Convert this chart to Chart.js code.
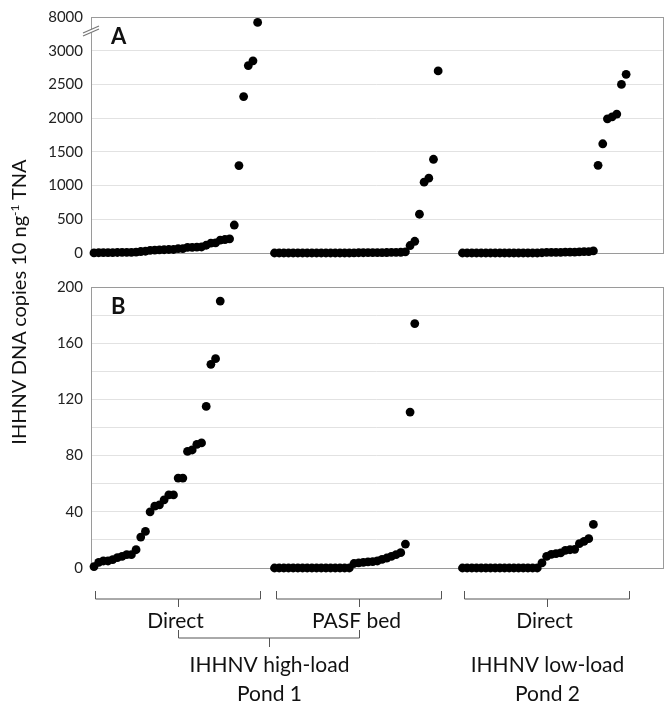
<!DOCTYPE html>
<html>
<head>
<meta charset="utf-8">
<script src="https://cdn.jsdelivr.net/npm/chart.js@4.4.0/dist/chart.umd.min.js"></script>
<style>
  html, body { margin: 0; padding: 0; background: #fff; }
  #wrap { position: relative; width: 667px; height: 705px; font-family: Lato, sans-serif; }
  #boxA { position: absolute; left: 0; top: 0; }
  #boxB { position: absolute; left: 0; top: 270px; }
  #ytitle {
    position: absolute; left: -182px; top: 290px; width: 400px; height: 24px;
    line-height: 24px; text-align: center; white-space: nowrap;
    transform: rotate(-90deg); font-size: 20px; color: #111;
  }
  #ytitle sup { font-size: 12px; vertical-align: 7px; line-height: 0; }
</style>
</head>
<body>
<div id="wrap">
  <div id="boxA"><canvas id="chartA" width="667" height="270"></canvas></div>
  <div id="boxB"><canvas id="chartB" width="667" height="435"></canvas></div>
  <div id="ytitle">IHHNV DNA copies 10 ng<sup>-1</sup> TNA</div>
</div>
<script>
// sorted sample values, IHHNV copies per 10 ng TNA
const pond1Direct = [1, 4, 5, 5, 6, 7.4, 8.3, 9.5, 9.5, 13, 22, 26, 40, 44, 45, 48.5, 52, 52,
    64, 64, 83, 84, 88, 89, 115, 145, 149, 190, 200, 210, 415, 1296, 2320, 2780, 2850, 7200];
const pond1Pasf = [0, 0, 0, 0, 0, 0, 0, 0, 0, 0, 0, 0, 0, 0, 0, 0, 0,
    3.2, 3.6, 4.0, 4.3, 4.5, 5.0, 6.2, 7.1, 8.3, 9.5, 10.9, 17, 111, 174, 575, 1050, 1110, 1390, 2700];
const pond2Direct = [0, 0, 0, 0, 0, 0, 0, 0, 0, 0, 0, 0, 0, 0, 0, 0, 0,
    3.6, 8.3, 9.7, 10.2, 10.7, 12.6, 13, 13.3, 17.3, 19, 20.9, 31, 1300, 1620, 1990, 2020, 2060, 2500, 2650];

const groupLabels = ['Direct', 'PASF bed', 'Direct'];
const pondLabels = [['IHHNV high-load', 'Pond 1'], ['IHHNV low-load', 'Pond 2']];
const groupOffsets = [0, 38.6, 78.8];   // x position of first sample in each group

const ticksA = [0, 500, 1000, 1500, 2000, 2500, 3000];
const breakLow = 3000, breakHigh = 8000;   // axis break in panel A
const ticksB = [0, 40, 80, 120, 160, 200];

const groups = [pond1Direct, pond1Pasf, pond2Direct];

// panel A: everything above 3000 is squeezed into one 500-wide band
function squeeze(v) {
    return v <= breakLow ? v : breakLow + (v - breakLow) * 500 / (breakHigh - breakLow);
}

function makeDatasets(transform, maxY) {
    return groups.map((vals, g) => ({
        data: vals.map((v, i) => ({ x: groupOffsets[g] + i, y: transform(v) }))
                  .filter(p => p.y < maxY),
        backgroundColor: '#000',
        borderColor: '#000',
        pointRadius: 4.4,
        pointBorderWidth: 0,
        showLine: false,
        clip: false
    }));
}

const frame = {
    id: 'frame',
    beforeDatasetsDraw(chart) {
        const a = chart.chartArea, ctx = chart.ctx;
        ctx.save();
        ctx.strokeStyle = '#9a9a9a';
        ctx.lineWidth = 1;
        ctx.strokeRect(Math.round(a.left) + 0.5, Math.round(a.top) + 0.5,
            Math.round(a.right - a.left), Math.round(a.bottom - a.top));
        ctx.restore();
    },
    afterDatasetsDraw(chart, args, opts) {
        const a = chart.chartArea, ctx = chart.ctx;
        ctx.save();
        ctx.fillStyle = '#111';
        ctx.font = 'bold 22px Lato';
        ctx.textBaseline = 'alphabetic';
        ctx.fillText(opts.label, a.left + 20, a.top + 27);
        if (opts.brk) {
            const y = chart.scales.y.getPixelForValue(breakLow + 300);
            const x = a.left;
            ctx.fillStyle = '#fff';
            ctx.beginPath();
            ctx.moveTo(x - 7, y + 2); ctx.lineTo(x + 7, y - 4);
            ctx.lineTo(x + 7, y - 1); ctx.lineTo(x - 7, y + 5);
            ctx.closePath(); ctx.fill();
            ctx.strokeStyle = '#777';
            ctx.lineWidth = 1.2;
            ctx.beginPath();
            ctx.moveTo(x - 8, y + 2.5); ctx.lineTo(x + 8, y - 4.5);
            ctx.moveTo(x - 8, y + 5.5); ctx.lineTo(x + 8, y - 1.5);
            ctx.stroke();
        }
        ctx.restore();
    }
};

const brackets = {
    id: 'brackets',
    afterDraw(chart) {
        const xs = chart.scales.x, ctx = chart.ctx;
        const base = chart.chartArea.bottom;
        ctx.save();
        ctx.strokeStyle = '#555';
        ctx.lineWidth = 1;
        ctx.fillStyle = '#111';
        ctx.font = '21px Lato';
        ctx.textAlign = 'center';
        ctx.textBaseline = 'middle';
        const mids = [];
        groups.forEach((vals, g) => {
            const l = Math.round(xs.getPixelForValue(groupOffsets[g] + 0.3)) + 0.5;
            const r = Math.round(xs.getPixelForValue(groupOffsets[g] + vals.length - 0.4)) + 0.5;
            const m = Math.round((l + r) / 2) + 0.5;
            mids.push(m);
            ctx.beginPath();
            ctx.moveTo(l, base + 23); ctx.lineTo(l, base + 31);
            ctx.lineTo(r, base + 31); ctx.lineTo(r, base + 23);
            ctx.moveTo(m, base + 31); ctx.lineTo(m, base + 39);
            ctx.stroke();
            ctx.fillText(groupLabels[g], m - 3, base + 53);
        });
        // pond 1 joins the first two groups
        const l = mids[0], r = mids[1], m = Math.round((l + r) / 2) + 0.5;
        ctx.beginPath();
        ctx.moveTo(l, base + 62); ctx.lineTo(l, base + 70);
        ctx.lineTo(r, base + 70); ctx.lineTo(r, base + 62);
        ctx.moveTo(m, base + 70); ctx.lineTo(m, base + 79);
        ctx.stroke();
        ctx.fillText(pondLabels[0][0], m, base + 97);
        ctx.fillText(pondLabels[0][1], m, base + 126);
        ctx.fillText(pondLabels[1][0], mids[2], base + 97);
        ctx.fillText(pondLabels[1][1], mids[2], base + 126);
        ctx.restore();
    }
};

function baseOptions(padTop, padBottom) {
    return {
        responsive: false,
        animation: false,
        layout: { padding: { left: 0, right: 4, top: padTop, bottom: padBottom } },
        plugins: { legend: { display: false }, tooltip: { enabled: false } },
        scales: {
            x: { type: 'linear', display: false, min: -0.64, max: 121.6 }
        }
    };
}

const optsA = baseOptions(17, 16);
optsA.plugins.frame = { label: 'A', brk: true };
optsA.scales.y = {
    min: 0,
    max: squeeze(breakHigh),
    afterFit(scale) { scale.width = 91; },
    afterBuildTicks(scale) {
        scale.ticks = ticksA.concat([squeeze(breakHigh)]).map(v => ({ value: v }));
    },
    ticks: {
        color: '#222',
        font: { family: 'Lato', size: 15 },
        padding: 8,
        callback: v => v === squeeze(breakHigh) ? String(breakHigh) : String(v)
    },
    grid: { color: '#e2e2e2', drawTicks: false },
    border: { display: false }
};

const optsB = baseOptions(17, 137);
optsB.plugins.frame = { label: 'B', brk: false };
optsB.scales.y = {
    min: 0,
    max: 200,
    afterFit(scale) { scale.width = 91; },
    ticks: {
        stepSize: 20,
        color: '#222',
        font: { family: 'Lato', size: 15 },
        padding: 8,
        callback: v => ticksB.includes(v) ? String(v) : ''
    },
    grid: { color: '#e2e2e2', drawTicks: false },
    border: { display: false }
};

new Chart(document.getElementById('chartA'), {
    type: 'scatter',
    data: { datasets: makeDatasets(squeeze, Infinity) },
    options: optsA,
    plugins: [frame]
});

new Chart(document.getElementById('chartB'), {
    type: 'scatter',
    data: { datasets: makeDatasets(v => v, 200) },
    options: optsB,
    plugins: [frame, brackets]
});
</script>
</body>
</html>
